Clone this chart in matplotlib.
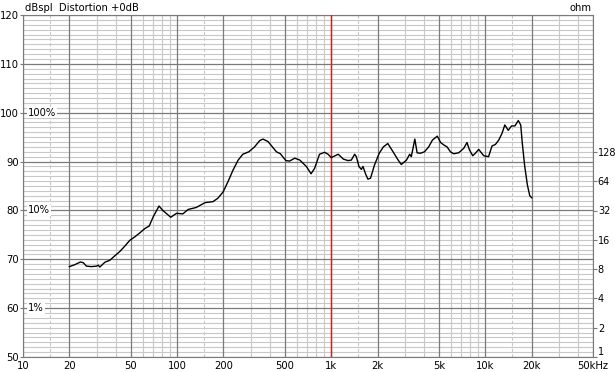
import numpy as np
import matplotlib.pyplot as plt
from matplotlib.ticker import FixedLocator, NullFormatter

# frequency response (Hz, dB SPL)
freq = [20, 21.7, 23.6, 24.6, 25.8, 27.8, 30, 30.8, 31.5, 34, 36.6, 39.4, 42.5, 45.8,
        49.4, 53.2, 57.3, 61.8, 65.9, 70, 76.3, 80.8, 91, 99, 109, 118, 133, 152, 171,
        184, 199, 214, 231, 249, 267, 292, 318, 344, 361, 389, 441, 468, 508, 537, 580,
        626, 690, 740, 780, 840, 906, 955, 1000, 1110, 1200, 1286, 1350, 1420, 1456,
        1514, 1570, 1608, 1670, 1730, 1800, 1910, 2050, 2180, 2330, 2520, 2720, 2850,
        3080, 3230, 3310, 3490, 3610, 3790, 4030, 4290, 4540, 4880, 5130, 5380, 5650,
        5940, 6240, 6720, 7240, 7610, 7890, 8290, 8620, 9060, 9430, 9760, 10500, 11060,
        11630, 12230, 12850, 13390, 14080, 14810, 15570, 16370, 16980, 17390, 18030,
        18760, 19440, 20000]
spl = [68.5, 68.9, 69.45, 69.3, 68.6, 68.5, 68.6, 68.8, 68.4, 69.4, 69.8, 70.7, 71.6, 72.7,
       73.9, 74.6, 75.4, 76.3, 76.8, 78.7, 80.9, 80.0, 78.6, 79.4, 79.3, 80.2, 80.6, 81.6, 81.8,
       82.5, 83.8, 85.9, 88.3, 90.3, 91.5, 92.0, 93.0, 94.3, 94.6, 94.1, 92.0, 91.6, 90.2, 90.1, 90.7,
       90.3, 89.0, 87.5, 88.6, 91.5, 91.9, 91.5, 90.8, 91.5, 90.5, 90.2, 90.3, 91.5, 91.0,
       89.0, 88.4, 89.0, 87.5, 86.4, 86.6, 89.3, 91.7, 93.0, 93.7, 92.0, 90.3, 89.4,
       90.3, 91.5, 91.0, 94.6, 91.8, 91.7, 92.0, 93.0, 94.4, 95.2, 93.9, 93.4, 93.0,
       92.0, 91.6, 91.8, 92.7, 93.9, 92.4, 91.2, 91.7, 92.5, 91.8, 91.2, 91.0, 93.2,
       93.5, 94.4, 95.8, 97.5, 96.4, 97.3, 97.3, 98.4, 97.5, 93.7, 89.0,
       85.2, 83.0, 82.6]

x_major = [10, 20, 50, 100, 200, 500, 1000, 2000, 5000, 10000, 20000, 50000]
x_labels = ['10', '20', '50', '100', '200', '500', '1k', '2k', '5k', '10k', '20k', '50kHz']
x_dashed = [15, 150, 1500, 15000]
ohm_ticks = [1, 2, 4, 8, 16, 32, 64, 128]
pct_labels = ['100%', '10%', '1%']
pct_levels = [100, 80, 60]

plt.rcParams['font.family'] = 'DejaVu Sans'
plt.rcParams['font.size'] = 7.2

fig = plt.figure(figsize=(6.15, 3.72), dpi=100)
ax = fig.add_axes([23 / 615, 15 / 372, 570 / 615, 342 / 372])

ax.set_xscale('log')
ax.set_xlim(10, 50000)
ax.set_ylim(50, 120)

# minor grid
minor_x = [m * 10 ** d for d in range(1, 5) for m in range(2, 10)
           if m * 10 ** d not in x_major and 10 <= m * 10 ** d <= 50000]
for v in minor_x:
    ax.axvline(v, color='#c8c8c8', lw=0.8, zorder=1)
for v in x_dashed:
    ax.axvline(v, color='#c8c8c8', lw=0.8, ls=(0, (3, 2)), zorder=1)
for v in range(51, 120):
    if v % 10:
        ax.axhline(v, color='#c8c8c8', lw=0.8, zorder=1)
# major grid
for v in x_major:
    ax.axvline(v, color='#7a7a7a', lw=0.9, zorder=2)
for v in range(50, 121, 10):
    ax.axhline(v, color='#7a7a7a', lw=0.9, zorder=2)
ax.axvline(1000, color='#d02020', lw=1.0, zorder=3)

ax.plot(freq, spl, color='black', lw=1.0, zorder=5)

ax.xaxis.set_major_locator(FixedLocator(x_major))
ax.set_xticklabels(x_labels)
ax.xaxis.set_minor_formatter(NullFormatter())
ax.tick_params(axis='x', which='both', length=0, pad=3)
ax.set_yticks(range(50, 121, 10))
ax.tick_params(axis='y', length=2, pad=1, color='#7a7a7a')
for sp in ax.spines.values():
    sp.set_color('#7a7a7a')

for lab, lv in zip(pct_labels, pct_levels):
    ax.text(10.8, lv, lab, ha='left', va='center', zorder=6,
            bbox=dict(facecolor='white', edgecolor='none', pad=0.5))

# impedance axis on the right
ax2 = ax.twinx()
ax2.set_yscale('log', base=2)
ax2.set_ylim(1, 2 ** (342 / 29.3))
ax2.set_yticks(ohm_ticks)
ax2.set_yticklabels([str(t) for t in ohm_ticks])
ax2.yaxis.set_minor_locator(FixedLocator([]))
ax2.tick_params(axis='y', length=3, pad=0.5, color='#7a7a7a', labelsize=7)
ax2.get_yticklabels()[0].set_va('bottom')
for sp in ax2.spines.values():
    sp.set_visible(False)

fig.text(25 / 615, 1 - 8 / 372, 'dBspl  Distortion +0dB', ha='left', va='center')
fig.text(592 / 615, 1 - 8 / 372, 'ohm', ha='right', va='center')

fig.savefig('out.png', dpi=100)
